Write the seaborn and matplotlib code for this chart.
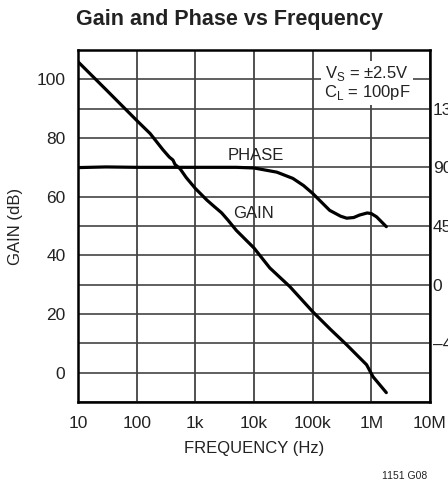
import matplotlib
matplotlib.use('Agg')
import matplotlib.pyplot as plt
import seaborn as sns
import numpy as np

# gain curve (Hz, dB)
gain_freq = [10, 30, 100, 170, 280, 360, 415, 450, 550, 700, 1000, 1580, 2000,
             2800, 3600, 5000, 10000, 18600, 41000, 100000, 123000, 200000,
             380000, 830000, 1070000, 1800000]
gain_db = [106, 96.5, 86, 81.5, 76, 73.5, 72.5, 71, 69.5, 66.5, 62.8, 58.8, 57,
           54.5, 52, 48.5, 42.5, 35.7, 29.3, 20.8, 19, 14.8, 9.5, 2.7, -1.4, -6.8]

# phase curve (Hz, deg)
phase_freq = [10, 30, 100, 1000, 5000, 10000, 24500, 46000, 70000, 100000,
              195000, 300000, 380000, 500000, 630000, 850000, 1000000,
              1230000, 1800000]
phase_deg = [89.8, 90.3, 90, 90, 90, 89.5, 86.3, 81.5, 76, 70, 57, 52.5, 51,
             51.5, 53.4, 55, 54.5, 52, 44.5]

x_ticks = [10, 100, 1e3, 1e4, 1e5, 1e6, 1e7]
x_labels = ['10', '100', '1k', '10k', '100k', '1M', '10M']
gain_ticks = [0, 20, 40, 60, 80, 100]
phase_ticks = [-45, 0, 45, 90, 135]
phase_labels = ['\u201345', '0', '45', '90', '135']

sns.set_style('white')
plt.rcParams['font.family'] = ['Liberation Sans', 'DejaVu Sans']

fig = plt.figure(figsize=(4.48, 4.87), dpi=100)
ax = fig.add_axes([78 / 448, 85 / 487, 352 / 448, 352 / 487])

sns.lineplot(x=gain_freq, y=gain_db, ax=ax, color='black', lw=2.3,
             sort=False, estimator=None)
# phase drawn on the gain axis using the phase scale mapping (0 deg -> 30 dB)
phase_on_gain = [30 + p / 2.25 for p in phase_deg]
sns.lineplot(x=phase_freq, y=phase_on_gain, ax=ax, color='black', lw=2.3,
             sort=False, estimator=None)

ax.set_xscale('log')
ax.set_xlim(10, 1e7)
ax.set_ylim(-10, 110)
ax.set_xticks(x_ticks)
ax.set_xticklabels(x_labels)
ax.xaxis.set_minor_locator(matplotlib.ticker.NullLocator())
ax.set_yticks(gain_ticks)
ax.set_yticks(np.arange(-10, 111, 10), minor=True)
ax.tick_params(axis='both', which='both', length=0, labelsize=12.5,
               colors='#222222')
ax.tick_params(axis='x', pad=10)
ax.tick_params(axis='y', pad=9)
ax.grid(True, which='major', axis='x', color='#333333', lw=1.2)
ax.grid(True, which='both', axis='y', color='#444444', lw=1.2)
for s in ax.spines.values():
    s.set_color('black')
    s.set_linewidth(1.8)

ax.set_xlabel('FREQUENCY (Hz)', fontsize=12, color='#222222', labelpad=7)
ax.set_ylabel('GAIN (dB)', fontsize=12, color='#222222', labelpad=10)

ax2 = ax.twinx()
ax2.set_ylim(-90, 180)
ax2.set_yticks(phase_ticks)
ax2.set_yticklabels(phase_labels)
ax2.tick_params(axis='y', length=0, labelsize=12.5, pad=2, colors='#222222')
ax2.grid(False)
for s in ax2.spines.values():
    s.set_visible(False)

ax.text((256 - 78) / 352, (402 - 156) / 352, 'PHASE',
        transform=ax.transAxes, ha='center', va='center', fontsize=12,
        color='#222222')
ax.text((253 - 78) / 352, (402 - 213) / 352, 'GAIN',
        transform=ax.transAxes, ha='center', va='center', fontsize=12,
        color='#222222')
ax.text((367 - 78) / 352, (402 - 64) / 352,
        'V$_\\mathregular{S}$ = \u00b12.5V\nC$_\\mathregular{L}$ = 100pF',
        transform=ax.transAxes, ha='center', va='top', fontsize=12,
        color='#222222', linespacing=1.0,
        bbox=dict(facecolor='white', edgecolor='none', pad=2))

fig.text(230 / 448, 1 - 20 / 487, 'Gain and Phase vs Frequency',
         ha='center', va='center', fontsize=15.5, fontweight='bold',
         color='#222222')
fig.text(427 / 448, 1 - 476 / 487, '1151 G08', ha='right', va='center',
         fontsize=7.5, color='#222222')

fig.savefig('out.png', dpi=100)
